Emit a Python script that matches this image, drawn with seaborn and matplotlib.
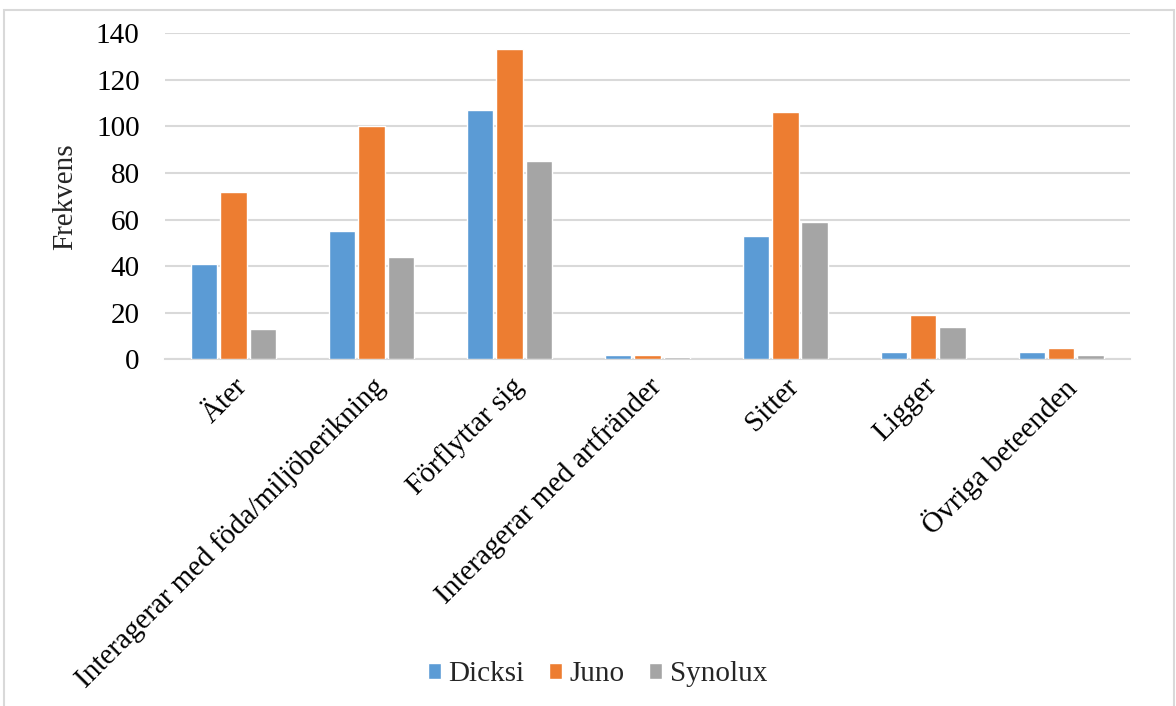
import pandas as pd
import matplotlib.pyplot as plt
import seaborn as sns
from matplotlib.patches import Rectangle

# Beteenden och frekvenser per individ
beteenden = ['Äter', 'Interagerar med föda/miljöberikning', 'Förflyttar sig',
             'Interagerar med artfränder', 'Sitter', 'Ligger', 'Övriga beteenden']
individer = ['Dicksi', 'Juno', 'Synolux']
dicksi = [41, 55, 107, 2, 53, 3, 3]
juno = [72, 100, 133, 2, 106, 19, 5]
synolux = [13, 44, 85, 1, 59, 14, 2]
y_ticks = [0, 20, 40, 60, 80, 100, 120, 140]

colors = {'Dicksi': '#5B9BD5', 'Juno': '#ED7D31', 'Synolux': '#A5A5A5'}

df = pd.DataFrame({
    'Beteende': beteenden * 3,
    'Individ': ['Dicksi'] * 7 + ['Juno'] * 7 + ['Synolux'] * 7,
    'Frekvens': dicksi + juno + synolux,
})

sns.set_style("white")
plt.rcParams['font.family'] = ['Liberation Serif', 'DejaVu Serif']

fig = plt.figure(figsize=(11.76, 7.06), dpi=100)
ax = fig.add_axes([0.140, 0.491, 0.821, 0.462])

sns.barplot(data=df, x='Beteende', y='Frekvens', hue='Individ', order=beteenden,
            hue_order=individer, palette=colors, width=0.64, gap=0.1,
            saturation=1, ax=ax, legend=True, zorder=3)

ax.set_ylim(0, 140)
ax.set_yticks(y_ticks)
ax.yaxis.grid(True, color='#D9D9D9', linewidth=1.5)
ax.set_axisbelow(True)
for s in ['left', 'right', 'top']:
    ax.spines[s].set_visible(False)
ax.spines['bottom'].set_color('#D9D9D9')
ax.spines['bottom'].set_linewidth(1.5)
ax.spines['bottom'].set_zorder(0.5)
ax.tick_params(axis='both', length=0, labelsize=21, colors='#000000', pad=10)
ax.tick_params(axis='y', pad=18)
plt.setp(ax.get_xticklabels(), rotation=45, ha='right', rotation_mode='anchor')
ax.set_xlabel('')
ax.set_ylabel('Frekvens', fontsize=21, labelpad=13)

ax.legend(loc='center', bbox_to_anchor=(0.508, 0.045), bbox_transform=fig.transFigure,
          ncol=3, frameon=False, fontsize=21, handlelength=0.45, handleheight=0.45,
          handletextpad=0.25, columnspacing=0.85)

# tunn ram runt diagrammet
fig.patches.append(Rectangle((0.003, -0.01), 0.995, 0.996, transform=fig.transFigure,
                             fill=False, edgecolor='#D9D9D9', linewidth=1.5))

fig.savefig('out.png', dpi=100)
